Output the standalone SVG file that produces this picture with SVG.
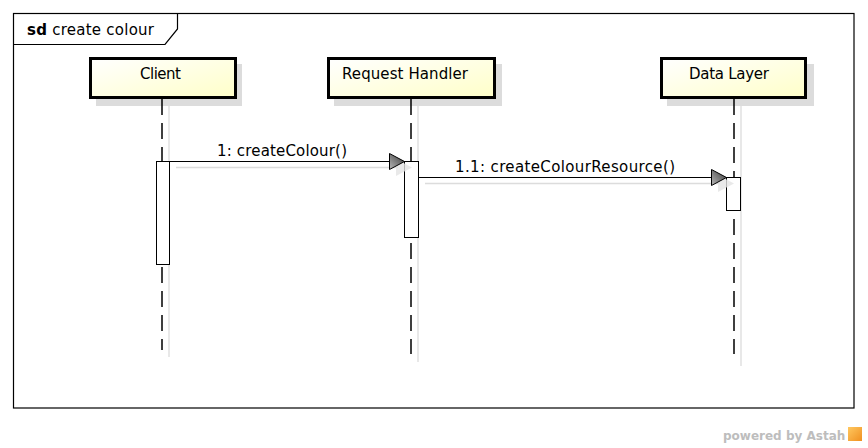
<svg xmlns="http://www.w3.org/2000/svg" width="868" height="448" viewBox="0 0 868 448">
<style>
text{font-family:"DejaVu Sans",Verdana,sans-serif;font-size:15px;fill:#000}
.frame{fill:none;stroke:#000;stroke-width:1.2}
.head{fill:url(#hg);stroke:#000;stroke-width:3}
.hshadow{fill:#dcdcdc;stroke:none}
.life{stroke:#000;stroke-width:1.5;stroke-dasharray:16 8;fill:none}
.lshadow{stroke:#e0e0e0;stroke-width:1.5;fill:none}
.act{fill:#fff;stroke:#000;stroke-width:1}
.msg{stroke:#000;stroke-width:1;fill:none}
.mshadow{stroke:#dcdcdc;stroke-width:1.5;fill:none}
.arrow{fill:url(#ag);stroke:#000;stroke-width:1}
.ashadow{fill:#e4e4e4;opacity:0.8}
.wm{font-size:12px;font-weight:bold;fill:#bdbdbd}
</style>
<defs>
<linearGradient id="hg" x1="0" y1="0" x2="1" y2="1">
<stop offset="0" stop-color="#ffffff"/>
<stop offset="1" stop-color="#ffffc8"/>
</linearGradient>
<linearGradient id="ag" x1="0" y1="1" x2="1" y2="0">
<stop offset="0" stop-color="#b8b8b8"/>
<stop offset="0.6" stop-color="#6a6a6a"/>
<stop offset="1" stop-color="#303030"/>
</linearGradient>
<linearGradient id="lg" x1="0" y1="0" x2="1" y2="1">
<stop offset="0" stop-color="#ffc860"/>
<stop offset="1" stop-color="#f09020"/>
</linearGradient>
</defs>

<g id="frame">
<rect class="frame" x="13.5" y="13.5" width="840.5" height="394.5"/>
<path class="frame" d="M13.5 44.5 H165 L177.5 29 V13.5"/>
<text x="27" y="35" textLength="127" lengthAdjust="spacing"><tspan font-weight="bold">sd</tspan> create colour</text>
</g>

<g id="client">
<rect class="hshadow" x="96" y="64" width="146" height="42"/>
<line class="lshadow" x1="169" y1="106" x2="169" y2="357"/>
<rect class="head" x="90.5" y="58.5" width="145" height="39"/>
<text x="140" y="79" textLength="41" lengthAdjust="spacing">Client</text>
<line class="life" x1="162" y1="99" x2="162" y2="350"/>
<rect class="act" x="156.5" y="161.5" width="13" height="103"/>
</g>

<g id="request-handler">
<rect class="hshadow" x="334" y="64" width="168" height="42"/>
<line class="lshadow" x1="418" y1="106" x2="418" y2="362"/>
<rect class="head" x="328.5" y="58.5" width="166" height="39"/>
<text x="342" y="79" textLength="126" lengthAdjust="spacing">Request Handler</text>
<line class="life" x1="411" y1="99" x2="411" y2="354"/>
<rect class="act" x="404.5" y="161.5" width="14" height="76"/>
</g>

<g id="data-layer">
<rect class="hshadow" x="667" y="64" width="147" height="42"/>
<line class="lshadow" x1="741" y1="106" x2="741" y2="366"/>
<rect class="head" x="661.5" y="58.5" width="144" height="39"/>
<text x="689" y="79" textLength="80" lengthAdjust="spacing">Data Layer</text>
<line class="life" x1="734" y1="99" x2="734" y2="354"/>
<rect class="act" x="726.5" y="177.5" width="14" height="33"/>
</g>

<g id="connectors">
<line class="mshadow" x1="176" y1="167.5" x2="398" y2="167.5"/>
<polygon class="ashadow" points="396,159 412,167.5 396,176"/>
<line class="msg" x1="169.5" y1="161.5" x2="390" y2="161.5"/>
<polygon class="arrow" points="389.5,153.5 404.5,161.5 389.5,169.5"/>
<text x="217" y="156" textLength="130" lengthAdjust="spacing">1: createColour()</text>

<line class="mshadow" x1="425" y1="183.5" x2="720" y2="183.5"/>
<polygon class="ashadow" points="718,175 734,183.5 718,192"/>
<line class="msg" x1="418.5" y1="177.5" x2="712" y2="177.5"/>
<polygon class="arrow" points="711.5,169.5 726.5,177.5 711.5,185.5"/>
<text x="455" y="172" textLength="220" lengthAdjust="spacing">1.1: createColourResource()</text>
</g>

<g id="watermark">
<text class="wm" x="723" y="440">powered by Astah</text>
<rect x="848" y="427" width="14" height="14" fill="url(#lg)"/>
</g>
</svg>
